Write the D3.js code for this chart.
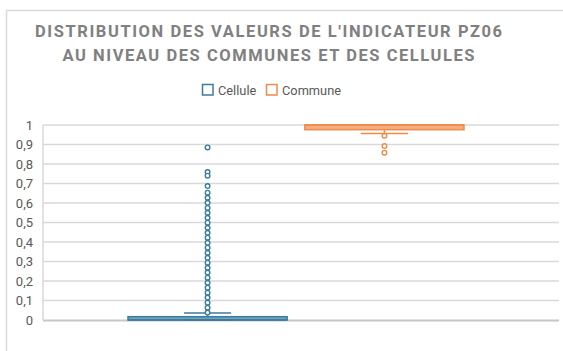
<!DOCTYPE html>
<html>
<head>
<meta charset="utf-8">
<script src="https://cdn.jsdelivr.net/npm/d3@7"></script>
<style>
  html, body { margin: 0; padding: 0; background: #fff; }
  svg { display: block; }
  text { font-family: Roboto, "Noto Sans", sans-serif; }
</style>
</head>
<body>
<svg id="chart" width="563" height="351"></svg>
<script>
// Series shown in the legend
const seriesNames = ["Cellule", "Commune"];
const seriesColors = ["#3b7c9c", "#f08a4b"];
const category = "PZ06";

// Box statistics per series: [min whisker, q1, median, q3, max whisker]
const celluleBox = [0, 0, 0, 0.017, 0.036];
const communeBox = [0.957, 0.976, 1, 1, 1];

// Outlying values per series
const celluleOutliers = [
  0.885, 0.759, 0.740, 0.687, 0.653, 0.627, 0.601, 0.575, 0.550, 0.524,
  0.499, 0.473, 0.447, 0.422, 0.396, 0.371, 0.345, 0.319, 0.294, 0.268,
  0.243, 0.217, 0.191, 0.166, 0.140, 0.115, 0.089, 0.063, 0.038
];
const communeOutliers = [0.945, 0.892, 0.858];

// Axis ticks
const yTicks = [0, 0.1, 0.2, 0.3, 0.4, 0.5, 0.6, 0.7, 0.8, 0.9, 1];
const yTickLabels = ["0", "0,1", "0,2", "0,3", "0,4", "0,5", "0,6", "0,7", "0,8", "0,9", "1"];

const titleLines = [
  "DISTRIBUTION DES VALEURS DE L'INDICATEUR PZ06",
  "AU NIVEAU DES COMMUNES ET DES CELLULES"
];

const series = [
  { name: seriesNames[0], color: seriesColors[0], box: celluleBox, outliers: celluleOutliers },
  { name: seriesNames[1], color: seriesColors[1], box: communeBox, outliers: communeOutliers }
];

const svg = d3.select("#chart");
const plot = { left: 43, right: 559, top: 125, bottom: 320 };

// Chart frame
svg.append("rect")
  .attr("x", 6.5).attr("y", 10.5)
  .attr("width", 700).attr("height", 500)
  .attr("fill", "#fff").attr("stroke", "#d9d9d9").attr("stroke-width", 1.5);

// Title
const titleWidths = [467, 412];
svg.selectAll("text.title")
  .data(titleLines)
  .join("text")
  .attr("class", "title")
  .attr("x", 268.5)
  .attr("y", (d, i) => 36.7 + i * 24.4)
  .attr("text-anchor", "middle")
  .attr("font-size", 16.5)
  .attr("font-weight", "bold")
  .attr("fill", "#808080")
  .attr("textLength", (d, i) => titleWidths[i])
  .attr("lengthAdjust", "spacing")
  .text(d => d);

// Legend
const legend = svg.append("g");
const legendItems = [
  { name: seriesNames[0], color: seriesColors[0], x: 202 },
  { name: seriesNames[1], color: seriesColors[1], x: 266 }
];
legendItems.forEach(it => {
  legend.append("rect")
    .attr("x", it.x + 0.5).attr("y", 84.5)
    .attr("width", 10.5).attr("height", 10.5)
    .attr("fill", "#fff").attr("stroke", it.color).attr("stroke-width", 1.5);
  legend.append("text")
    .attr("x", it.x + 16).attr("y", 94.5)
    .attr("font-size", 12.8)
    .attr("fill", "#595959")
    .text(it.name);
});

// Scales
const y = d3.scaleLinear().domain([0, 1]).range([plot.bottom, plot.top]);
const x0 = d3.scaleBand().domain([category]).range([plot.left, plot.right - 10])
  .paddingInner(0).paddingOuter(0.253);
const x1 = d3.scaleBand().domain(seriesNames).range([0, x0.bandwidth()]).paddingInner(0.1);

// Gridlines
svg.append("g")
  .selectAll("line")
  .data(yTicks.filter(t => t > 0))
  .join("line")
  .attr("x1", plot.left).attr("x2", plot.right)
  .attr("y1", d => y(d)).attr("y2", d => y(d))
  .attr("stroke", "#d9d9d9").attr("stroke-width", 1.5);

// Left axis line
svg.append("line")
  .attr("x1", plot.left).attr("x2", plot.left)
  .attr("y1", plot.top).attr("y2", plot.bottom)
  .attr("stroke", "#d9d9d9").attr("stroke-width", 1.5);

// Baseline axis
svg.append("line")
  .attr("x1", plot.left).attr("x2", plot.right)
  .attr("y1", y(0) + 0.5).attr("y2", y(0) + 0.5)
  .attr("stroke", "#c6c6c6").attr("stroke-width", 2);

// Y axis labels
const yAxis = d3.axisLeft(y)
  .tickValues(yTicks)
  .tickSize(0)
  .tickPadding(10)
  .tickFormat((d, i) => yTickLabels[i]);
const yAxisG = svg.append("g")
  .attr("transform", `translate(${plot.left},0)`)
  .call(yAxis);
yAxisG.select(".domain").remove();
yAxisG.selectAll("text")
  .attr("font-size", 13)
  .attr("fill", "#595959")
  .attr("font-family", "Roboto, 'Noto Sans', sans-serif");

// Boxes, whiskers and outliers
series.forEach(s => {
  const g = svg.append("g");
  const left = x0(category) + x1(s.name);
  const w = x1.bandwidth();
  const cx = left + w / 2;
  const capW = 47;
  const [lo, q1, med, q3, hi] = s.box;

  // whiskers
  g.append("line")
    .attr("x1", cx).attr("x2", cx)
    .attr("y1", y(q3)).attr("y2", y(hi))
    .attr("stroke", s.color).attr("stroke-width", 1.5);
  g.append("line")
    .attr("x1", cx).attr("x2", cx)
    .attr("y1", y(q1)).attr("y2", y(lo))
    .attr("stroke", s.color).attr("stroke-width", 1.5);
  [lo, hi].forEach(v => {
    g.append("line")
      .attr("x1", cx - capW / 2).attr("x2", cx + capW / 2)
      .attr("y1", y(v)).attr("y2", y(v))
      .attr("stroke", s.color).attr("stroke-width", 1.5);
  });

  // box
  g.append("rect")
    .attr("x", left).attr("width", w)
    .attr("y", y(q3)).attr("height", Math.max(y(q1) - y(q3), 0))
    .attr("fill", s.color).attr("fill-opacity", 0.7)
    .attr("stroke", s.color).attr("stroke-width", 1.5);
  g.append("line")
    .attr("x1", left).attr("x2", left + w)
    .attr("y1", y(med)).attr("y2", y(med))
    .attr("stroke", s.color).attr("stroke-width", 1.5);

  // outliers
  g.selectAll("circle")
    .data(s.outliers)
    .join("circle")
    .attr("cx", cx).attr("cy", d => y(d))
    .attr("r", 2.3)
    .attr("fill", "#fff")
    .attr("stroke", s.color).attr("stroke-width", 1.4);
});
</script>
</body>
</html>
